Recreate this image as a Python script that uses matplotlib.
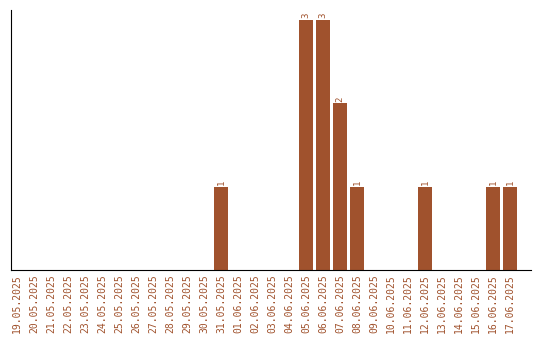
import matplotlib
matplotlib.use("Agg")
import matplotlib.pyplot as plt

dates = ["19.05.2025", "20.05.2025", "21.05.2025", "22.05.2025", "23.05.2025",
         "24.05.2025", "25.05.2025", "26.05.2025", "27.05.2025", "28.05.2025",
         "29.05.2025", "30.05.2025", "31.05.2025", "01.06.2025", "02.06.2025",
         "03.06.2025", "04.06.2025", "05.06.2025", "06.06.2025", "07.06.2025",
         "08.06.2025", "09.06.2025", "10.06.2025", "11.06.2025", "12.06.2025",
         "13.06.2025", "14.06.2025", "15.06.2025", "16.06.2025", "17.06.2025"]
counts = [0, 0, 0, 0, 0, 0, 0, 0, 0, 0, 0, 0, 1, 0, 0,
          0, 0, 3, 3, 2, 1, 0, 0, 0, 1, 0, 0, 0, 1, 1]

brown = "#a0522d"

fig = plt.figure(figsize=(5.4, 3.4), dpi=100)
ax = fig.add_axes([10.5 / 540, 70 / 340, 520.5 / 540, 260 / 340])

x = range(len(dates))
ax.bar(x, counts, width=0.82, color=brown)
for i, v in zip(x, counts):
    if v > 0:
        ax.text(i, v + 0.02, str(v), rotation=90, ha="center", va="bottom",
                color=brown, fontsize=6.5, family="DejaVu Sans Mono")

ax.set_xlim(-0.38, 30.24)
ax.set_ylim(0, 3.12)
ax.set_xticks(list(x))
ax.set_xticklabels(dates, rotation=90, color=brown, fontsize=7,
                   family="DejaVu Sans Mono")
ax.tick_params(axis="x", length=0, pad=3)
ax.set_yticks([])
ax.spines["top"].set_visible(False)
ax.spines["right"].set_visible(False)

plt.savefig("out.png")
